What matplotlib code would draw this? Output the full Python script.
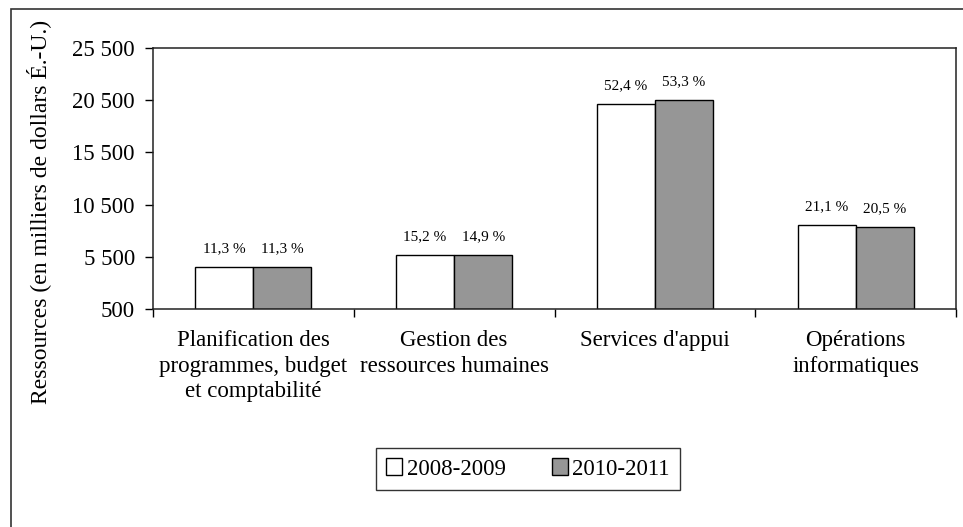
import matplotlib.pyplot as plt
import matplotlib.patches as mpatches
import numpy as np

plt.rcParams['font.family'] = ['Liberation Serif', 'DejaVu Serif']

categories = ["Planification des\nprogrammes, budget\net comptabilité",
              "Gestion des\nressources humaines",
              "Services d'appui",
              "Opérations\ninformatiques"]
vals_2008 = [4490, 5650, 20120, 8540]
vals_2010 = [4490, 5650, 20500, 8350]
pct_2008 = ["11,3 %", "15,2 %", "52,4 %", "21,1 %"]
pct_2010 = ["11,3 %", "14,9 %", "53,3 %", "20,5 %"]
yticks = [500, 5500, 10500, 15500, 20500, 25500]
ytick_labels = ["500", "5 500", "10 500", "15 500", "20 500", "25 500"]

fig = plt.figure(figsize=(9.63, 5.27), dpi=100)
ax = fig.add_axes([153/963, 1-309/527, (956-153)/963, (309-48)/527])

x = np.arange(len(categories))
w = 0.289
ax.bar(x - w/2, np.array(vals_2008) - 500, w, bottom=500, color='white',
       edgecolor='black', linewidth=1, label='2008-2009')
ax.bar(x + w/2, np.array(vals_2010) - 500, w, bottom=500, color='#969696',
       edgecolor='black', linewidth=1, label='2010-2011')

for i in range(len(categories)):
    ax.annotate(pct_2008[i], (x[i] - w/2, vals_2008[i]), xytext=(0, 11),
                textcoords='offset points', ha='center', va='baseline', fontsize=11)
    ax.annotate(pct_2010[i], (x[i] + w/2, vals_2010[i]), xytext=(0, 11),
                textcoords='offset points', ha='center', va='baseline', fontsize=11)

ax.set_ylim(500, 25500)
ax.set_xlim(-0.5, 3.5)
ax.set_yticks(yticks)
ax.set_yticklabels(ytick_labels, fontsize=16.5)
ax.tick_params(axis='y', direction='out', length=6, width=1, pad=7)

ax.set_xticks(x)
ax.set_xticklabels(categories, fontsize=16.5, linespacing=1.3, va='top')
ax.tick_params(axis='x', which='major', length=0, pad=15)
ax.set_xticks(np.arange(-0.5, 4.0, 1.0), minor=True)
ax.tick_params(axis='x', which='minor', direction='out', length=6, width=1)

for s in ax.spines.values():
    s.set_linewidth(1.1)
    s.set_color('#222222')

fig.text(39/963, 1-212/527, "Ressources (en milliers de dollars É.-U.)", fontsize=17,
         rotation=90, ha='center', va='center')

h1 = mpatches.Patch(facecolor='white', edgecolor='black', label='2008-2009')
h2 = mpatches.Patch(facecolor='#969696', edgecolor='black', label='2010-2011')
leg = fig.legend(handles=[h1, h2], loc='center', bbox_to_anchor=(528/963, 1-469/527),
                 ncol=2, fontsize=16.5, frameon=True, fancybox=False, edgecolor='black',
                 handlelength=0.7, handleheight=0.7, handletextpad=0.2,
                 columnspacing=2.0, borderpad=0.45)
leg.get_frame().set_linewidth(1)

# outer frame (only top and left visible)
fig.patches.append(mpatches.Rectangle((11/963, -0.1), 1.2, 1.1 - 9/527, transform=fig.transFigure,
                                      fill=False, edgecolor='#333333', linewidth=1.2))

fig.savefig('out.png', dpi=100)
